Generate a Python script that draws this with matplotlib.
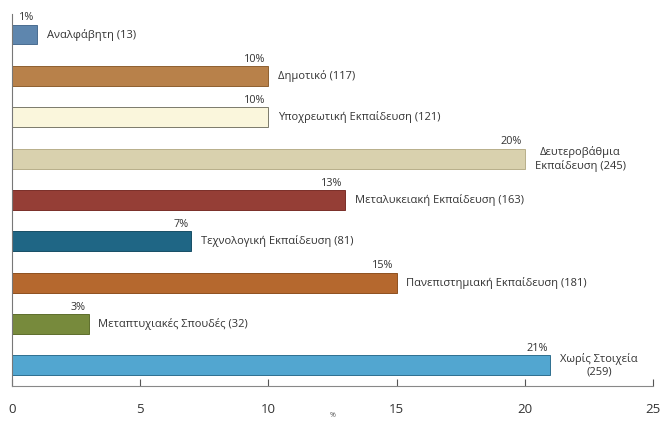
import matplotlib.pyplot as plt

# Δεδομένα
labels = ['Αναλφάβητη (13)', 'Δημοτικό (117)', 'Υποχρεωτική Εκπαίδευση (121)',
          'Δευτεροβάθμια\nΕκπαίδευση (245)', 'Μεταλυκειακή Εκπαίδευση (163)',
          'Τεχνολογική Εκπαίδευση (81)', 'Πανεπιστημιακή Εκπαίδευση (181)',
          'Μεταπτυχιακές Σπουδές (32)', 'Χωρίς Στοιχεία\n(259)']
percents = [1, 10, 10, 20, 13, 7, 15, 3, 21]
colors = ['#5E86AE', '#B8814A', '#FAF6DC', '#D9D1AE', '#953E36',
          '#1F6685', '#B5682E', '#778A3C', '#52A6D0']
edges = ['#4A6D90', '#8E6030', '#7A7A6A', '#B8AF8A', '#7A2E28',
         '#174E66', '#8E5020', '#5E6E2C', '#2F6F90']
xticks = [0, 5, 10, 15, 20, 25]

plt.rcParams['font.family'] = ['Open Sans', 'DejaVu Sans']

fig = plt.figure(figsize=(6.62, 4.21), dpi=100)
ax = fig.add_axes([0.0177, 0.083, 0.9688, 0.884])

pos = list(range(len(labels)))
ax.barh(pos, percents, height=0.48, color=colors, edgecolor=edges, linewidth=0.7)

for i in pos:
    p = percents[i]
    ax.annotate(str(p) + '%', (p, i - 0.24), xytext=(-2, 1), textcoords='offset points',
                ha='right', va='bottom', fontsize=7.8, color='#333333')
    ax.annotate(labels[i], (p, i), xytext=(7, 0), textcoords='offset points',
                ha='left', va='center', fontsize=8, color='#333333',
                multialignment='center')

ax.set_xlim(0, 25)
ax.set_ylim(8.5, -0.5)
ax.set_xticks(xticks)
ax.set_yticks([])
ax.tick_params(axis='x', direction='in', length=5, pad=12, labelsize=9.5,
               colors='#555555', labelcolor='#333333')
ax.spines['top'].set_visible(False)
ax.spines['right'].set_visible(False)
ax.spines['left'].set_color('#777777')
ax.spines['bottom'].set_color('#888888')
ax.set_xlabel('%', fontsize=5, labelpad=-3, color='#555555')

fig.savefig('out.png', dpi=100)
